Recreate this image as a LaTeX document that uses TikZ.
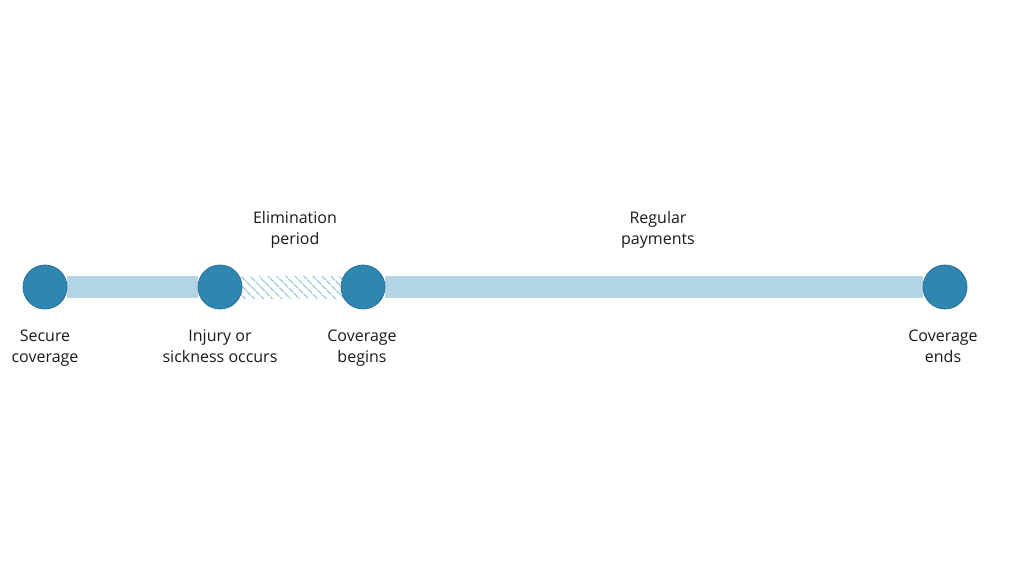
\documentclass[tikz,border=0pt]{standalone}
\usepackage{fontspec}
\setmainfont{Open Sans}
\usetikzlibrary{patterns.meta,backgrounds}
\definecolor{dot}{HTML}{2E86B1}
\definecolor{dotedge}{HTML}{2A7198}
\definecolor{barc}{HTML}{B3D4E5}
\definecolor{hatchc}{HTML}{9CC5DA}
\definecolor{txt}{HTML}{1A1A1A}
\newcommand{\tl}[2]{#1\strut\\#2\strut}
\begin{document}
\begin{tikzpicture}[x=1pt,y=-1pt,
  milestone/.style={circle,fill=dot,draw=dotedge,line width=0.8pt,minimum size=44pt,inner sep=0pt},
  bar/.style={barc,line width=22pt},
  lbl/.style={text=txt,font=\fontsize{16}{21}\selectfont,align=center,inner sep=0pt}]
\useasboundingbox (0,0) rectangle (1024,576);
\node[milestone] (a) at (45,287) {};
\node[milestone] (b) at (220,287) {};
\node[milestone] (c) at (363,287) {};
\node[milestone] (d) at (945,287) {};
\begin{scope}[on background layer]
  \fill[white] (0,0) rectangle (1024,576);
  \draw[bar] (a) -- (b);
  \draw[bar] (c) -- (d);
  \path[pattern={Lines[angle=-45,distance=6.5pt,line width=1.3pt]},pattern color=hatchc]
    ([yshift=-11pt]b.center) rectangle ([yshift=11pt]c.center);
\end{scope}
\node[lbl] (la) at (45,348) {\tl{Secure}{coverage}};
\node[lbl] (lb) at (220,348) {\tl{Injury or}{sickness occurs}};
\node[lbl] (lc) at (362,348) {\tl{Coverage}{begins}};
\node[lbl] (ld) at (943,348) {\tl{Coverage}{ends}};
\node[lbl] (le) at (295,230) {\tl{Elimination}{period}};
\node[lbl] (lr) at (658,230) {\tl{Regular}{payments}};
\end{tikzpicture}
\end{document}
